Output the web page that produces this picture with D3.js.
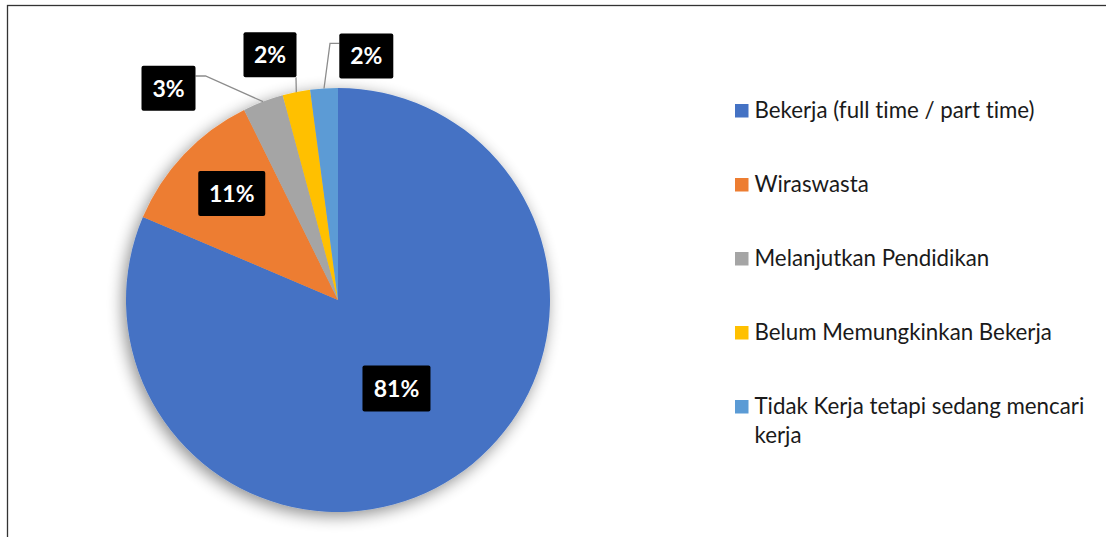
<!DOCTYPE html>
<html><head><meta charset="utf-8">
<script src="https://cdn.jsdelivr.net/npm/d3@7"></script>
<style>html,body{margin:0;padding:0;background:#fff;overflow:hidden} text{font-variant-ligatures:none}</style>
</head><body>
<svg id="chart" width="1106" height="537"></svg>
<script>
const categories = ["Bekerja (full time / part time)", "Wiraswasta", "Melanjutkan Pendidikan", "Belum Memungkinkan Bekerja", "Tidak Kerja tetapi sedang mencari kerja"];
const values = [81.4, 11.3, 3.1, 2.1, 2.1];
const valueLabels = ["81%", "11%", "3%", "2%", "2%"];
const colors = ["#4472C4", "#ED7D31", "#A5A5A5", "#FFC000", "#5B9BD5"];

const svg = d3.select("#chart");
const W = 1106, H = 537;
const cx = 338, cy = 300, R = 212;
const labelFont = "Lato, 'Open Sans', sans-serif";

// frame
svg.append("rect").attr("x", 7.5).attr("y", 5.5).attr("width", W + 20).attr("height", H + 20)
  .attr("fill", "#fff").attr("stroke", "#333").attr("stroke-width", 1.3);

const defs = svg.append("defs");
const f = defs.append("filter").attr("id", "shadow").attr("x", "-20%").attr("y", "-20%").attr("width", "140%").attr("height", "140%");
f.append("feGaussianBlur").attr("in", "SourceAlpha").attr("stdDeviation", 8).attr("result", "b");
f.append("feOffset").attr("in", "b").attr("dx", -3).attr("dy", 4).attr("result", "o");
f.append("feComponentTransfer").attr("in", "o").attr("result", "s")
  .append("feFuncA").attr("type", "linear").attr("slope", 0.45);
const fm = f.append("feMerge");
fm.append("feMergeNode").attr("in", "s");
fm.append("feMergeNode").attr("in", "SourceGraphic");

const pie = d3.pie().sort(null).value(d => d)(values);
const arc = d3.arc().innerRadius(0).outerRadius(R);

const g = svg.append("g").attr("transform", `translate(${cx},${cy})`);
const pg = g.append("g").attr("filter", "url(#shadow)");
pg.selectAll("path").data(pie).join("path")
  .attr("d", arc).attr("fill", (d, i) => colors[i]);

// label placement (polar from pie center: label box center)
function polar(a, r) { return [r * Math.sin(a), -r * Math.cos(a)]; }
const mid = d => (d.startAngle + d.endAngle) / 2;

// box centres (layout), relative to centre
const boxPos = [
  polar(mid(pie[0]), R * 0.5),
  polar(mid(pie[1]) + 0.03, R * 0.71),
  [-169.5, -211.7],
  [-68, -245.2],
  [28.3, -244]
];
const boxSizes = [[68, 46], [67, 45], [54, 45], [53, 45], [54, 45]];

// leader lines for outside labels
const lineColor = "#8c8c8c";
function edgePt(i) { return polar(mid(pie[i]), R); }
const leaders = [
  null, null,
  (() => { const p = edgePt(2); const b = boxPos[2], s = boxSizes[2];
    const yb = b[1] - 12.3; return [p, [b[0] + s[0] / 2 + 10, yb], [b[0] + s[0] / 2, yb]]; })(),
  (() => { const p = edgePt(3); const b = boxPos[3], s = boxSizes[3];
    return [p, [b[0] + s[0] / 2 - 0.5, b[1] + s[1] / 2]]; })(),
  (() => { const p = edgePt(4); const b = boxPos[4], s = boxSizes[4];
    const yb = b[1] - 12.7; return [p, [b[0] - s[0] / 2 - 9.3, yb], [b[0] - s[0] / 2, yb]]; })()
];
const line = d3.line();
leaders.forEach(l => {
  if (!l) return;
  g.append("path").attr("d", line(l)).attr("fill", "none").attr("stroke", lineColor).attr("stroke-width", 1.3);
});

const lg = g.selectAll("g.lbl").data(pie).join("g").attr("class", "lbl")
  .attr("transform", (d, i) => `translate(${boxPos[i][0]},${boxPos[i][1]})`);
lg.append("rect")
  .attr("x", (d, i) => -boxSizes[i][0] / 2).attr("y", (d, i) => -boxSizes[i][1] / 2)
  .attr("width", (d, i) => boxSizes[i][0]).attr("height", (d, i) => boxSizes[i][1])
  .attr("rx", 2).attr("fill", "#000");
lg.append("text").attr("text-anchor", "middle").attr("dy", "0.36em")
  .attr("font-family", labelFont).attr("font-weight", "bold").attr("font-size", 23)
  .attr("fill", "#fff").text((d, i) => valueLabels[i]);

// legend
const legX = 735, legY0 = 104, legStep = 74;
const legend = svg.append("g").attr("font-family", labelFont).attr("font-size", 22.3).attr("fill", "#1a1a1a");
categories.forEach((c, i) => {
  const y = legY0 + i * legStep;
  legend.append("rect").attr("x", legX).attr("y", y).attr("width", 13.5).attr("height", 13.5).attr("fill", colors[i]);
  const t = legend.append("text").attr("x", legX + 19.5).attr("y", y + 13.5);
  const words = c.split(" ");
  let lineWords = [];
  let ts = t.append("tspan").attr("x", legX + 19.5).attr("dy", 0);
  words.forEach(w => {
    lineWords.push(w);
    ts.text(lineWords.join(" "));
    if (ts.node().getComputedTextLength() > 345 && lineWords.length > 1) {
      lineWords.pop();
      ts.text(lineWords.join(" "));
      lineWords = [w];
      ts = t.append("tspan").attr("x", legX + 19.5).attr("dy", 29).text(w);
    }
  });
});
</script>
</body></html>
